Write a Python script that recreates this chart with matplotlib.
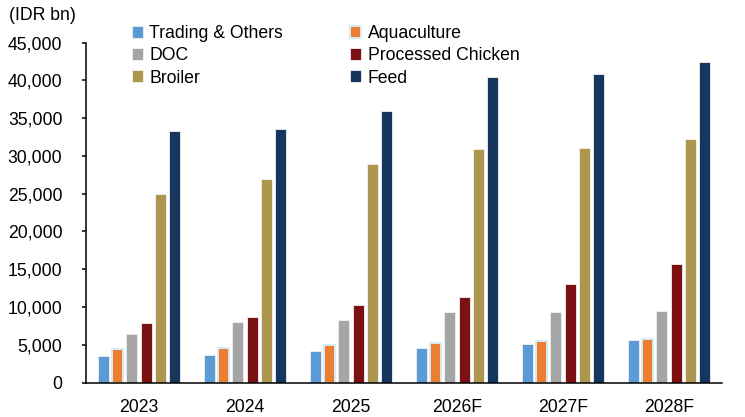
import numpy as np
import matplotlib.pyplot as plt
from matplotlib.ticker import FuncFormatter

plt.rcParams['font.family'] = ['Liberation Sans', 'DejaVu Sans']

# Data (IDR bn)
years = ['2023', '2024', '2025', '2026F', '2027F', '2028F']
trading = [3450, 3650, 4200, 4600, 5100, 5600]
aquaculture = [4400, 4600, 4950, 5200, 5450, 5750]
doc = [6450, 8000, 8300, 9350, 9350, 9500]
processed = [7850, 8700, 10250, 11300, 13100, 15700]
broiler = [24900, 26950, 29000, 30900, 31100, 32200]
feed = [33300, 33550, 35900, 40400, 40900, 42500]

series = [
    ('Trading & Others', trading, '#5B9BD5'),
    ('Aquaculture', aquaculture, '#ED7D31'),
    ('DOC', doc, '#A5A5A5'),
    ('Processed Chicken', processed, '#7B1113'),
    ('Broiler', broiler, '#AD974F'),
    ('Feed', feed, '#17365D'),
]

fig = plt.figure(figsize=(7.45, 4.17), dpi=100)
ax = fig.add_axes([0.1154, 0.0827, 0.8536, 0.8149])

x = np.arange(len(years))
pitch = 0.135
width = 0.104
handles = {}
for i, (name, vals, color) in enumerate(series):
    offset = (i - 2.5) * pitch
    if name == 'Aquaculture':
        ec, lw = '#D6ECF5', 1.4
    else:
        ec, lw = '#F2F2F2', 0.6
    bars = ax.bar(x + offset, vals, width, color=color, edgecolor=ec,
                  linewidth=lw, label=name, zorder=2)
    handles[name] = bars

ax.set_xlim(-0.5, len(years) - 0.5)
ax.set_ylim(0, 45000)
ax.set_yticks(np.arange(0, 45001, 5000))
ax.yaxis.set_major_formatter(FuncFormatter(lambda v, p: f'{int(v):,}'))
ax.set_xticks(x)
ax.set_xticklabels(years)

for s in ['top', 'right']:
    ax.spines[s].set_visible(False)
ax.spines['left'].set_linewidth(1.1)
ax.spines['bottom'].set_linewidth(1.1)

ax.tick_params(axis='y', direction='out', length=3, width=1.1, pad=14, labelsize=12.7)
ax.tick_params(axis='x', length=0, pad=12, labelsize=12.7)

# legend: row-wise order in reference, matplotlib fills columns
order = ['Trading & Others', 'DOC', 'Broiler', 'Aquaculture', 'Processed Chicken', 'Feed']
leg = fig.legend([handles[n] for n in order], order, ncol=2, frameon=False,
                 loc='upper left', bbox_to_anchor=(0.16, 0.969),
                 fontsize=12.7, handlelength=0.65, handleheight=0.65,
                 handletextpad=0.35, columnspacing=3.8, labelspacing=0.29,
                 borderaxespad=0.3)

fig.text(0.012, 0.962, '(IDR bn)', fontsize=12.7, ha='left', va='center')

fig.savefig('out.png', dpi=100)
